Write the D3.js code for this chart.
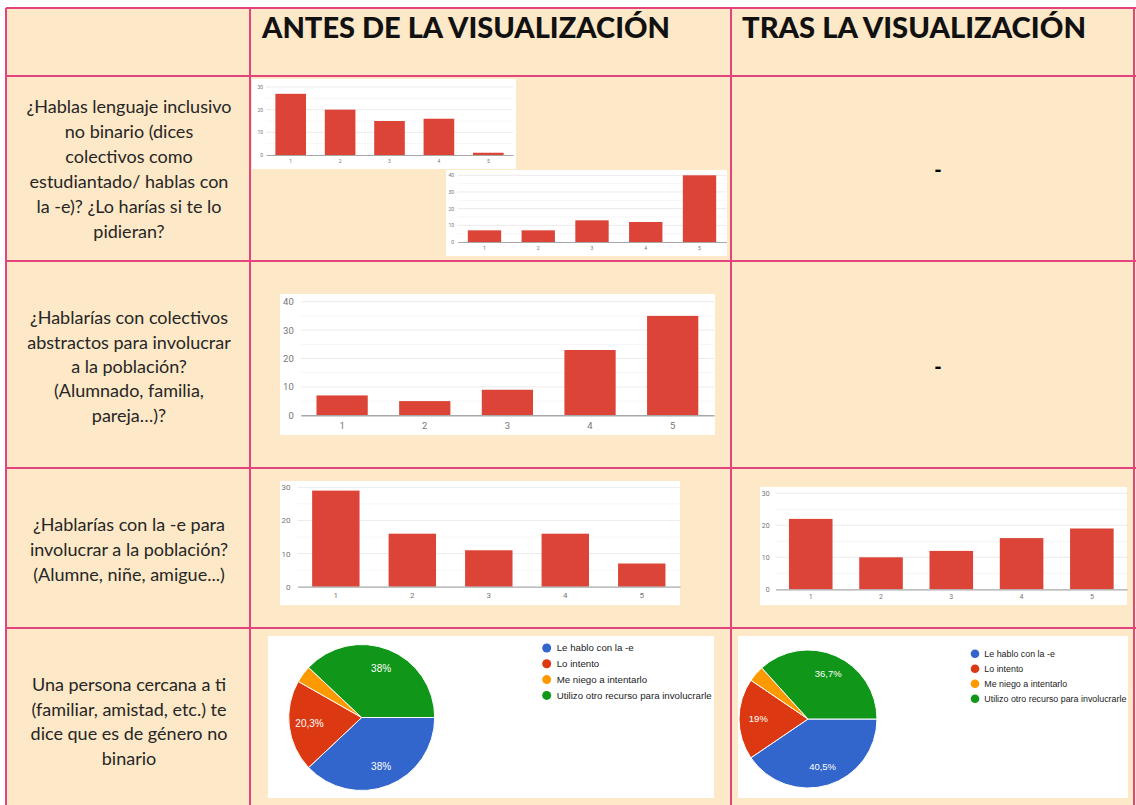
<!DOCTYPE html>
<html><head><meta charset="utf-8">
<script src="https://cdn.jsdelivr.net/npm/d3@7"></script>
<style>body{margin:0;background:#fff}svg{display:block}</style>
</head><body><svg id="c" width="1136" height="805"></svg>
<script>
// ---------- data ----------
const headers = ["ANTES DE LA VISUALIZACIÓN", "TRAS LA VISUALIZACIÓN"];
const questions = [
  ["¿Hablas lenguaje inclusivo", "no binario (dices", "colectivos como", "estudiantado/ hablas con", "la -e)? ¿Lo harías si te lo", "pidieran?"],
  ["¿Hablarías con colectivos", "abstractos para involucrar", "a la población?", "(Alumnado, familia,", "pareja…)?"],
  ["¿Hablarías con la -e para", "involucrar a la población?", "(Alumne, niñe, amigue...)"],
  ["Una persona cercana a ti", "(familiar, amistad, etc.) te", "dice que es de género no", "binario"]
];
const emptyCell = "-";
const categories = ["1", "2", "3", "4", "5"];
const hablasAntes = [27, 20, 15, 16, 1];
const hariasSiPidieran = [7, 7, 13, 12, 40];
const colectivosAntes = [7, 5, 9, 23, 35];
const conEAntes = [29, 16, 11, 16, 7];
const conETras = [22, 10, 12, 16, 19];
const ticks30 = [0, 10, 20, 30];
const ticks40 = [0, 10, 20, 30, 40];
const pieCategories = ["Le hablo con la -e", "Lo intento", "Me niego a intentarlo", "Utilizo otro recurso para involucrarle"];
const pieAntes = [30, 16, 3, 30];
const pieTras = [32, 15, 3, 29];
const pieColors = ["#3366cc", "#dc3912", "#ff9900", "#109618"];

// ---------- layout ----------
const svg = d3.select("#c");
const colX = [6, 250, 731, 1134];
const rowY = [8, 76, 261, 468, 628, 820];
const BG = "#fde8c7", LINE = "#e4447c", BAR = "#db4437";

svg.append("rect").attr("x", colX[0]).attr("y", rowY[0])
  .attr("width", 1136 - colX[0]).attr("height", 805 - rowY[0]).attr("fill", BG);

// header texts
const headerX = [262, 742], headerW = [408, 344];
headers.forEach((h, i) => {
  svg.append("text").attr("x", headerX[i]).attr("y", 38)
    .attr("font-family", "Lato, 'DejaVu Sans', sans-serif").attr("font-weight", 900)
    .attr("font-size", 28).attr("fill", "#111")
    .attr("textLength", headerW[i]).attr("lengthAdjust", "spacingAndGlyphs")
    .text(h);
});

// question texts
const qFirstY = [107, 318, 525, 685];
const qStep = [25, 24.3, 25, 24.4];
questions.forEach((lines, r) => {
  const t = svg.append("text").attr("font-family", "Lato, 'Open Sans', sans-serif")
    .attr("font-size", 18).attr("fill", "#262626").attr("text-anchor", "middle");
  lines.forEach((ln, k) => {
    t.append("tspan").attr("x", 129).attr("y", qFirstY[r] + k * qStep[r])
      .attr("dy", "0.35em").text(ln);
  });
});

// empty cells
[170, 367].forEach(y => {
  svg.append("text").attr("x", 938).attr("y", y).attr("dy", "0.35em")
    .attr("text-anchor", "middle").attr("font-family", "Lato, sans-serif")
    .attr("font-weight", 900).attr("font-size", 20).attr("fill", "#000").text(emptyCell);
});

// ---------- bar charts ----------
function barChart(c, values, ticks) {
  const g = svg.append("g");
  g.append("rect").attr("x", c.px).attr("y", c.py).attr("width", c.pw).attr("height", c.ph).attr("fill", "#fff");
  const x = d3.scaleBand().domain(categories).range([c.x0, c.x1]).paddingInner(0.38).paddingOuter(0.19);
  const y = d3.scaleLinear().domain([0, d3.max(ticks)]).range([c.yBase, c.yTop]);
  const minor = ticks.slice(1).map((t, i) => (t + ticks[i]) / 2);
  g.selectAll(".mn").data(minor).join("line")
    .attr("x1", c.x0).attr("x2", c.x1).attr("y1", d => y(d)).attr("y2", d => y(d))
    .attr("stroke", "#f6f6f6").attr("stroke-width", 1);
  g.selectAll(".mj").data(ticks.slice(1)).join("line")
    .attr("x1", c.x0).attr("x2", c.x1).attr("y1", d => y(d)).attr("y2", d => y(d))
    .attr("stroke", "#ebebeb").attr("stroke-width", 1);
  g.selectAll(".bar").data(values).join("rect")
    .attr("x", (d, i) => x(categories[i])).attr("width", x.bandwidth())
    .attr("y", d => y(d)).attr("height", d => y(0) - y(d)).attr("fill", BAR);
  const ya = g.append("g").attr("transform", `translate(${c.x0 - c.lx},0)`)
    .call(d3.axisLeft(y).tickValues(ticks).tickSize(0).tickPadding(0));
  ya.select(".domain").remove();
  ya.selectAll("text").attr("font-size", c.fs).attr("font-family", "Roboto, Arial, sans-serif").attr("fill", "#757575");
  const xa = g.append("g").attr("transform", `translate(0,${c.yBase})`)
    .call(d3.axisBottom(x).tickSize(0).tickSizeOuter(0).tickPadding(0));
  xa.select(".domain").attr("stroke", "#a8a8a8").attr("stroke-width", c.sw);
  xa.selectAll("text").attr("y", c.ly).attr("dy", "0.35em").attr("font-size", c.fs)
    .attr("font-family", "Roboto, Arial, sans-serif").attr("fill", "#757575");
}

barChart({px: 252, py: 79, pw: 264, ph: 90, x0: 266, x1: 513, yBase: 155, yTop: 87, fs: 5, lx: 3, ly: 6, sw: 1}, hablasAntes, ticks30);
barChart({px: 446, py: 170, pw: 281, ph: 86, x0: 457.6, x1: 726.4, yBase: 242, yTop: 175.3, fs: 5, lx: 3.6, ly: 6, sw: 1}, hariasSiPidieran, ticks40);
barChart({px: 280, py: 294, pw: 435, ph: 141, x0: 300.8, x1: 714, yBase: 415.3, yTop: 301.7, fs: 9.5, lx: 7, ly: 10, sw: 1.5}, colectivosAntes, ticks40);
barChart({px: 280, py: 481, pw: 400, ph: 124, x0: 297.6, x1: 680, yBase: 586.7, yTop: 487.3, fs: 8, lx: 7, ly: 8.5, sw: 1.3}, conEAntes, ticks30);
barChart({px: 760, py: 487, pw: 367, ph: 118, x0: 775.6, x1: 1127, yBase: 589.3, yTop: 493.3, fs: 7, lx: 6, ly: 7.5, sw: 1.2}, conETras, ticks30);

// ---------- pie charts ----------
const pctFmt = v => d3.format(".3~r")(v).replace(".", ",") + "%";
function pieChart(c, values) {
  const g = svg.append("g");
  g.append("rect").attr("x", c.px).attr("y", c.py).attr("width", c.pw).attr("height", c.ph).attr("fill", "#fff");
  const total = d3.sum(values);
  const arcs = d3.pie().sort(null).startAngle(Math.PI / 2).endAngle(Math.PI / 2 + 2 * Math.PI)(values);
  const arc = d3.arc().innerRadius(0).outerRadius(c.r);
  const lab = d3.arc().innerRadius(c.r * 0.72).outerRadius(c.r * 0.72);
  const pg = g.append("g").attr("transform", `translate(${c.cx},${c.cy})`);
  pg.selectAll("path").data(arcs).join("path").attr("d", arc)
    .attr("fill", (d, i) => pieColors[i]).attr("stroke", "#fff").attr("stroke-width", 1);
  pg.selectAll("text").data(arcs.filter(d => d.value / total >= 0.05)).join("text")
    .attr("transform", d => `translate(${lab.centroid(d)})`).attr("dy", "0.35em")
    .attr("text-anchor", "middle").attr("font-family", "Arial, 'Liberation Sans', sans-serif")
    .attr("font-size", c.lfs).attr("fill", "#fff")
    .text(d => pctFmt(100 * d.value / total));
  const lg = g.append("g");
  pieCategories.forEach((name, i) => {
    const yy = c.ly0 + i * c.ldy;
    lg.append("circle").attr("cx", c.lcx).attr("cy", yy).attr("r", c.lr).attr("fill", pieColors[i]);
    lg.append("text").attr("x", c.ltx).attr("y", yy).attr("dy", "0.35em")
      .attr("font-family", "Arial, 'Liberation Sans', sans-serif").attr("font-size", c.lfs2)
      .attr("fill", "#222").text(name);
  });
}
pieChart({px: 268, py: 636, pw: 446, ph: 162, cx: 361.7, cy: 717.5, r: 73, lfs: 10,
  lcx: 546.7, ly0: 648, ldy: 15.8, lr: 4.5, ltx: 556.7, lfs2: 9.7}, pieAntes);
pieChart({px: 738, py: 636, pw: 390, ph: 162, cx: 808, cy: 719, r: 69, lfs: 9.5,
  lcx: 975, ly0: 653.7, ldy: 15, lr: 4.3, ltx: 984.3, lfs2: 8.9}, pieTras);

// ---------- grid lines ----------
colX.forEach(x => svg.append("line").attr("x1", x).attr("x2", x).attr("y1", rowY[0]).attr("y2", 805)
  .attr("stroke", LINE).attr("stroke-width", 2));
rowY.slice(0, 5).forEach(y => svg.append("line").attr("x1", colX[0]).attr("x2", 1136).attr("y1", y).attr("y2", y)
  .attr("stroke", LINE).attr("stroke-width", 2));
</script>
</body></html>
